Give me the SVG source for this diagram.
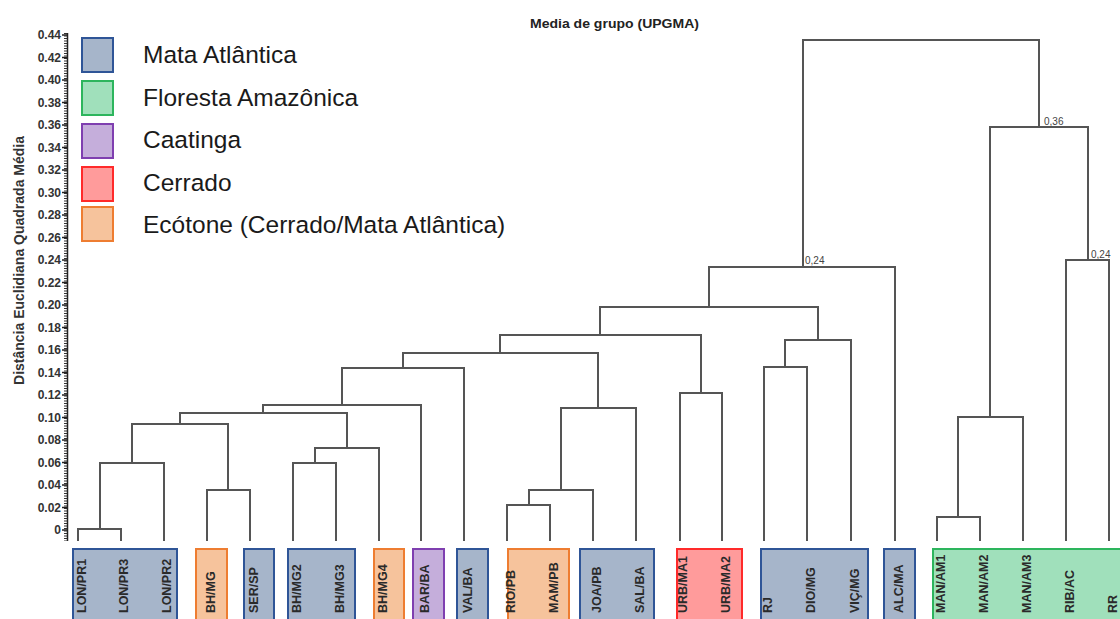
<svg xmlns="http://www.w3.org/2000/svg" width="1120" height="619" viewBox="0 0 1120 619">
<style>
.ln{fill:none;stroke:#555;stroke-width:2;stroke-linejoin:miter}
.t{font-family:"Liberation Sans",Arial,sans-serif}
.ax{font-family:"Liberation Sans",Arial,sans-serif;font-weight:bold;font-size:12px;fill:#333;text-anchor:end}
.leaf{font-family:"Liberation Sans",Arial,sans-serif;font-weight:bold;font-size:12.5px;fill:#2a2a2a}
.leg{font-family:"Liberation Sans",Arial,sans-serif;font-size:24.5px;fill:#1a1a1a}
.nv{font-family:"Liberation Sans",Arial,sans-serif;font-size:10px;fill:#444}
.ma{fill:#a6b5ca;stroke:#2f5597;stroke-width:2}
.fa{fill:#a0e0bb;stroke:#2db55d;stroke-width:2}
.ca{fill:#c5aedb;stroke:#7f3fb0;stroke-width:2}
.ce{fill:#ff9b9b;stroke:#ff2a2a;stroke-width:2}
.ec{fill:#f6c39c;stroke:#ee7d31;stroke-width:2}
</style>
<rect width="1120" height="619" fill="#fff"/>
<text class="t" x="530" y="28" font-size="12.5" font-weight="bold" fill="#222" textLength="169" lengthAdjust="spacingAndGlyphs">Media de grupo (UPGMA)</text>

<g id="axis">
<line x1="67.5" y1="33" x2="67.5" y2="541" stroke="#222" stroke-width="1.5"/>
<line x1="65.5" y1="33" x2="65.5" y2="541" stroke="#333" stroke-width="3" stroke-dasharray="1 1.5"/>
<g stroke="#222" stroke-width="1.5">
<line x1="62" y1="35" x2="67" y2="35"/><line x1="62" y1="57.5" x2="67" y2="57.5"/><line x1="62" y1="80" x2="67" y2="80"/><line x1="62" y1="102.5" x2="67" y2="102.5"/><line x1="62" y1="125" x2="67" y2="125"/><line x1="62" y1="147.5" x2="67" y2="147.5"/><line x1="62" y1="170" x2="67" y2="170"/><line x1="62" y1="192.5" x2="67" y2="192.5"/><line x1="62" y1="215" x2="67" y2="215"/><line x1="62" y1="237.5" x2="67" y2="237.5"/><line x1="62" y1="260" x2="67" y2="260"/><line x1="62" y1="282.5" x2="67" y2="282.5"/><line x1="62" y1="305" x2="67" y2="305"/><line x1="62" y1="327.5" x2="67" y2="327.5"/><line x1="62" y1="350" x2="67" y2="350"/><line x1="62" y1="372.5" x2="67" y2="372.5"/><line x1="62" y1="395" x2="67" y2="395"/><line x1="62" y1="417.5" x2="67" y2="417.5"/><line x1="62" y1="440" x2="67" y2="440"/><line x1="62" y1="462.5" x2="67" y2="462.5"/><line x1="62" y1="485" x2="67" y2="485"/><line x1="62" y1="507.5" x2="67" y2="507.5"/><line x1="62" y1="530" x2="67" y2="530"/>
</g>
<text class="ax" x="61" y="39">0.44</text>
<text class="ax" x="61" y="61.5">0.42</text>
<text class="ax" x="61" y="84">0.40</text>
<text class="ax" x="61" y="106.5">0.38</text>
<text class="ax" x="61" y="129">0.36</text>
<text class="ax" x="61" y="151.5">0.34</text>
<text class="ax" x="61" y="174">0.32</text>
<text class="ax" x="61" y="196.5">0.30</text>
<text class="ax" x="61" y="219">0.28</text>
<text class="ax" x="61" y="241.5">0.26</text>
<text class="ax" x="61" y="264">0.24</text>
<text class="ax" x="61" y="286.5">0.22</text>
<text class="ax" x="61" y="309">0.20</text>
<text class="ax" x="61" y="331.5">0.18</text>
<text class="ax" x="61" y="354">0.16</text>
<text class="ax" x="61" y="376.5">0.14</text>
<text class="ax" x="61" y="399">0.12</text>
<text class="ax" x="61" y="421.5">0.10</text>
<text class="ax" x="61" y="444">0.08</text>
<text class="ax" x="61" y="466.5">0.06</text>
<text class="ax" x="61" y="489">0.04</text>
<text class="ax" x="61" y="511.5">0.02</text>
<text class="ax" x="61" y="534">0</text>
<text class="t" transform="translate(24,136) rotate(-90)" font-size="14" font-weight="bold" fill="#333" text-anchor="end">Distância Euclidiana Quadrada Média</text>
</g>

<g id="legend">
<g id="leg-mata"><rect class="ma" x="82" y="38" width="31" height="34"/><text class="leg" x="143" y="63">Mata Atlântica</text></g>
<g id="leg-amazonia"><rect class="fa" x="82" y="81" width="31" height="34"/><text class="leg" x="143" y="106">Floresta Amazônica</text></g>
<g id="leg-caatinga"><rect class="ca" x="82" y="124" width="31" height="34"/><text class="leg" x="143" y="148">Caatinga</text></g>
<g id="leg-cerrado"><rect class="ce" x="82" y="167" width="31" height="34"/><text class="leg" x="143" y="191">Cerrado</text></g>
<g id="leg-ecotone"><rect class="ec" x="82" y="207" width="31" height="34"/><text class="leg" x="143" y="233">Ecótone (Cerrado/Mata Atlântica)</text></g>
</g>

<g id="connectors">
<path class="ln" d="M78 541V529H121V541"/>
<path class="ln" d="M100 529V463H164V541"/>
<path class="ln" d="M207 541V490H250V541"/>
<path class="ln" d="M132 463V424H228V490"/>
<path class="ln" d="M293 541V463H336V541"/>
<path class="ln" d="M315 463V448H379V541"/>
<path class="ln" d="M180 424V413H347V448"/>
<path class="ln" d="M263 413V405H421V541"/>
<path class="ln" d="M342 405V368H464V541"/>
<path class="ln" d="M507 541V505H550V541"/>
<path class="ln" d="M529 505V490H593V541"/>
<path class="ln" d="M561 490V408H636V541"/>
<path class="ln" d="M403 368V353H598V408"/>
<path class="ln" d="M680 541V393H722V541"/>
<path class="ln" d="M500 353V335H701V393"/>
<path class="ln" d="M764 541V367H807V541"/>
<path class="ln" d="M785 367V340H851V541"/>
<path class="ln" d="M600 335V307H818V340"/>
<path class="ln" d="M709 307V267H895V541"/>
<path class="ln" d="M937 541V517H980V541"/>
<path class="ln" d="M958 517V417H1023V541"/>
<path class="ln" d="M1066 541V260H1109V541"/>
<path class="ln" d="M990 417V127H1088V260"/>
<path class="ln" d="M803 267V40H1039V127"/>
</g>

<g id="node-values">
<text class="nv" x="805" y="264">0,24</text>
<text class="nv" x="1044" y="125">0,36</text>
<text class="nv" x="1091" y="258">0,24</text>
</g>

<g id="biome-boxes">
<rect class="ma" x="73" y="549" width="104" height="80"/>
<rect class="ec" x="196" y="549" width="31" height="80"/>
<rect class="ma" x="244" y="549" width="30" height="80"/>
<rect class="ma" x="288" y="549" width="67" height="80"/>
<rect class="ec" x="374" y="549" width="30" height="80"/>
<rect class="ca" x="413" y="549" width="31" height="80"/>
<rect class="ma" x="457" y="549" width="31" height="80"/>
<rect class="ec" x="508" y="549" width="61" height="80"/>
<rect class="ma" x="580" y="549" width="74" height="80"/>
<rect class="ce" x="677" y="549" width="65" height="80"/>
<rect class="ma" x="761" y="549" width="107" height="80"/>
<rect class="ma" x="884" y="549" width="31" height="80"/>
<rect class="fa" x="933" y="549" width="200" height="80"/>
</g>

<g id="leaves">
<g id="n-LON-PR1"><text class="leaf" transform="translate(82,613) rotate(-90)" dy="0.35em">LON/PR1</text></g>
<g id="n-LON-PR3"><text class="leaf" transform="translate(124,613) rotate(-90)" dy="0.35em">LON/PR3</text></g>
<g id="n-LON-PR2"><text class="leaf" transform="translate(167,613) rotate(-90)" dy="0.35em">LON/PR2</text></g>
<g id="n-BH-MG"><text class="leaf" transform="translate(211,613) rotate(-90)" dy="0.35em" fill="#6b3512">BH/MG</text></g>
<g id="n-SER-SP"><text class="leaf" transform="translate(254,613) rotate(-90)" dy="0.35em">SER/SP</text></g>
<g id="n-BH-MG2"><text class="leaf" transform="translate(297,613) rotate(-90)" dy="0.35em">BH/MG2</text></g>
<g id="n-BH-MG3"><text class="leaf" transform="translate(340,613) rotate(-90)" dy="0.35em">BH/MG3</text></g>
<g id="n-BH-MG4"><text class="leaf" transform="translate(383,613) rotate(-90)" dy="0.35em" fill="#6b3512">BH/MG4</text></g>
<g id="n-BAR-BA"><text class="leaf" transform="translate(425,613) rotate(-90)" dy="0.35em" fill="#4a2a66">BAR/BA</text></g>
<g id="n-VAL-BA"><text class="leaf" transform="translate(468,613) rotate(-90)" dy="0.35em">VAL/BA</text></g>
<g id="n-RIO-PB"><text class="leaf" transform="translate(511,613) rotate(-90)" dy="0.35em" fill="#6b3512">RIO/PB</text></g>
<g id="n-MAM-PB"><text class="leaf" transform="translate(554,613) rotate(-90)" dy="0.35em" fill="#6b3512">MAM/PB</text></g>
<g id="n-JOA-PB"><text class="leaf" transform="translate(597,613) rotate(-90)" dy="0.35em">JOA/PB</text></g>
<g id="n-SAL-BA"><text class="leaf" transform="translate(640,613) rotate(-90)" dy="0.35em">SAL/BA</text></g>
<g id="n-URB-MA1"><text class="leaf" transform="translate(683,613) rotate(-90)" dy="0.35em" fill="#7a1a1a">URB/MA1</text></g>
<g id="n-URB-MA2"><text class="leaf" transform="translate(726,613) rotate(-90)" dy="0.35em" fill="#7a1a1a">URB/MA2</text></g>
<g id="n-RJ"><text class="leaf" transform="translate(768,613) rotate(-90)" dy="0.35em">RJ</text></g>
<g id="n-DIO-MG"><text class="leaf" transform="translate(811,613) rotate(-90)" dy="0.35em">DIO/MG</text></g>
<g id="n-VIC-MG"><text class="leaf" transform="translate(855,613) rotate(-90)" dy="0.35em">VIÇ/MG</text></g>
<g id="n-ALC-MA"><text class="leaf" transform="translate(899,613) rotate(-90)" dy="0.35em">ALC/MA</text></g>
<g id="n-MAN-AM1"><text class="leaf" transform="translate(941,613) rotate(-90)" dy="0.35em" fill="#1d4a2c">MAN/AM1</text></g>
<g id="n-MAN-AM2"><text class="leaf" transform="translate(984,613) rotate(-90)" dy="0.35em" fill="#1d4a2c">MAN/AM2</text></g>
<g id="n-MAN-AM3"><text class="leaf" transform="translate(1027,613) rotate(-90)" dy="0.35em" fill="#1d4a2c">MAN/AM3</text></g>
<g id="n-RIB-AC"><text class="leaf" transform="translate(1070,613) rotate(-90)" dy="0.35em" fill="#1d4a2c">RIB/AC</text></g>
<g id="n-RR"><text class="leaf" transform="translate(1113,613) rotate(-90)" dy="0.35em" fill="#1d4a2c">RR</text></g>
</g>
</svg>
